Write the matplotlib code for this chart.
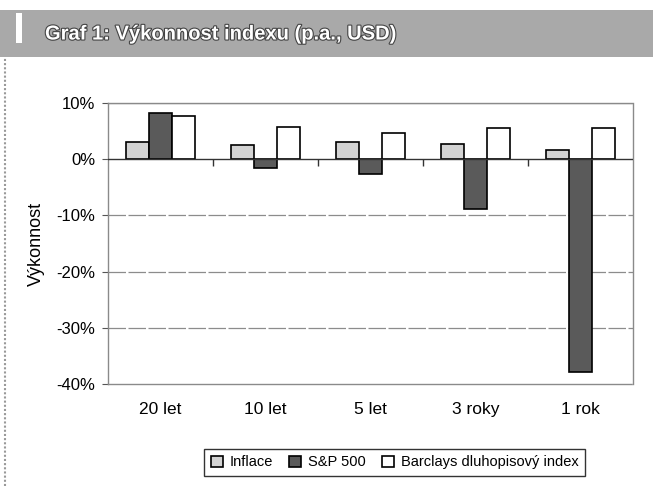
"""
Graf 1: Vykonnost indexu - grouped bars (inflation, S&P 500, Barclays bond index).
"""

import matplotlib.pyplot as plt
import matplotlib.patheffects as pe
import numpy as np
from matplotlib.patches import Rectangle

plt.rcParams["font.family"] = ["Liberation Sans", "DejaVu Sans"]

# data (percent p.a.)
periods = ["20 let", "10 let", "5 let", "3 roky", "1 rok"]
inflace = [3.0, 2.6, 3.0, 2.7, 1.6]
sp500 = [8.2, -1.5, -2.7, -8.9, -37.9]
barclays = [7.6, 5.7, 4.7, 5.5, 5.5]
series_names = ["Inflace", "S&P 500", "Barclays dluhopisový index"]
y_ticks = [10, 0, -10, -20, -30, -40]


def main():
    fig = plt.figure(figsize=(6.53, 4.86), dpi=100)

    # grey title band across the top
    fig.patches.append(Rectangle((0, 1 - 57 / 486), 1, 47 / 486, transform=fig.transFigure,
                                 facecolor="#a9a9a9", edgecolor="none", zorder=0))
    fig.patches.append(Rectangle((16 / 653, 1 - 43 / 486), 6 / 653, 30 / 486, transform=fig.transFigure,
                                 facecolor="white", edgecolor="none", zorder=1))
    fig.lines.append(plt.Line2D([5 / 653, 5 / 653], [0, 1 - 57 / 486], transform=fig.transFigure,
                                color="#999999", linewidth=1.5, linestyle=(0, (1, 1))))
    fig.text(45 / 653, 1 - 34 / 486, "Graf 1: Výkonnost indexu (p.a., USD)", fontsize=14.5,
             fontweight="bold", color="white", va="center", ha="left",
             path_effects=[pe.withStroke(linewidth=1.6, foreground="#444444")])

    ax = fig.add_axes([108 / 653, 1 - 384 / 486, 525 / 653, 281 / 486])

    x = np.arange(len(periods))
    w = 0.22
    ax.bar(x - w, inflace, w, color="#d3d3d3", edgecolor="black", linewidth=1.2, label=series_names[0], zorder=3)
    ax.bar(x, sp500, w, color="#5a5a5a", edgecolor="black", linewidth=1.2, label=series_names[1], zorder=3)
    ax.bar(x + w, barclays, w, color="white", edgecolor="black", linewidth=1.2, label=series_names[2], zorder=3)

    ax.set_xlim(-0.5, len(periods) - 0.5)
    ax.set_ylim(-40, 10)
    ax.set_yticks(y_ticks)
    ax.set_yticklabels([f"{t}%" for t in y_ticks], fontsize=12)
    ax.set_ylabel("Výkonnost", fontsize=13, labelpad=8)

    ax.set_xticks(x)
    ax.set_xticklabels(periods, fontsize=12.5)
    ax.tick_params(axis="x", length=0, pad=13)
    ax.tick_params(axis="y", length=4, width=0.8, color="#555555", pad=5)

    for t in y_ticks[1:-1]:
        if t != 0:
            ax.axhline(t, color="#8c8c8c", linewidth=0.9, linestyle=(0, (14, 2)), zorder=1)
    ax.axhline(10, color="#909090", linewidth=0.9, zorder=1)
    ax.axhline(0, color="#333333", linewidth=1.0, zorder=4)
    # category boundary ticks on the zero line
    ax.vlines(np.arange(len(periods) - 1) + 0.5, -1.2, 0, color="#333333", linewidth=1.0, zorder=4)

    for s in ax.spines.values():
        s.set_color("#8a8a8a")
        s.set_linewidth(1.0)
        s.set_linestyle((0, (2, 1)))

    leg = fig.legend(loc="lower left", bbox_to_anchor=(197 / 653, 3 / 486), ncol=3, fontsize=10.5,
                     frameon=True, fancybox=False, edgecolor="black", handlelength=0.8, handleheight=0.8,
                     handletextpad=0.5, columnspacing=1.1, borderpad=0.45)
    leg.get_frame().set_linewidth(1.0)

    fig.savefig("out.png", dpi=100)


if __name__ == "__main__":
    main()
